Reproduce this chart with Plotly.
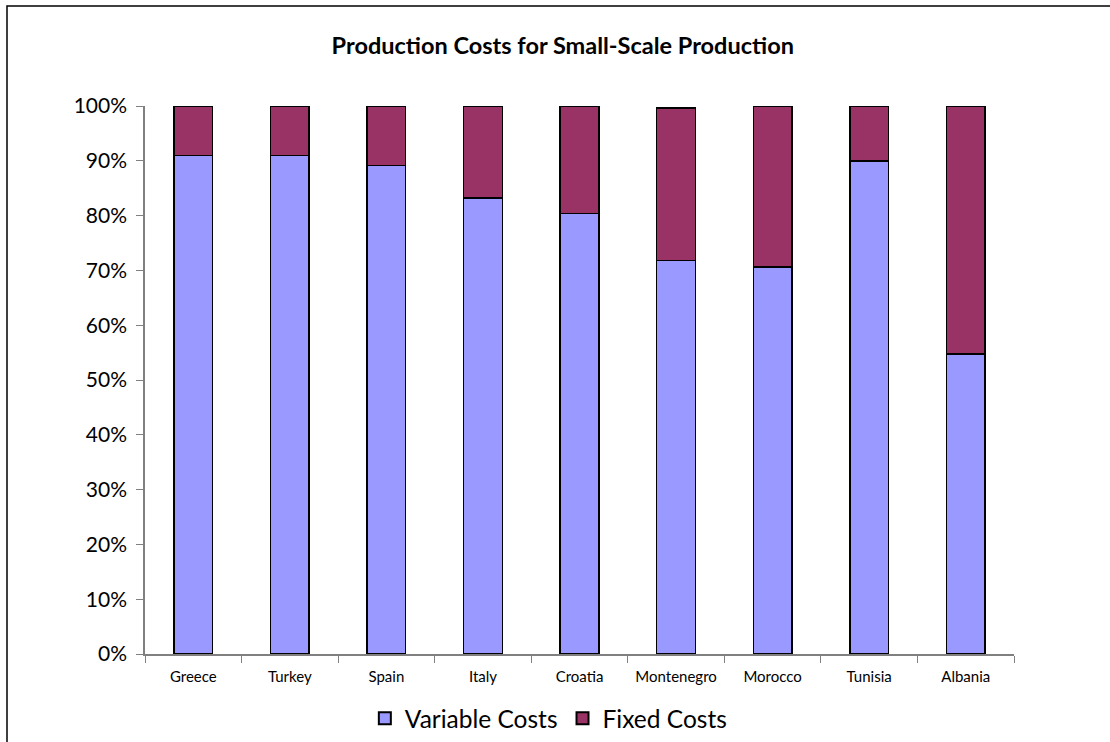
import plotly.graph_objects as go

countries = ["Greece", "Turkey", "Spain", "Italy", "Croatia", "Montenegro", "Morocco", "Tunisia", "Albania"]
variable_costs = [0.910, 0.910, 0.891, 0.832, 0.804, 0.718, 0.706, 0.900, 0.547]
fixed_costs = [0.090, 0.090, 0.109, 0.168, 0.196, 0.278, 0.294, 0.100, 0.453]

FONT = "Lato, 'Open Sans', sans-serif"

fig = go.Figure()
fig.add_trace(go.Bar(x=countries, y=variable_costs, name="Variable Costs",
                     marker=dict(color="#9999FF", line=dict(color="black", width=1.5))))
fig.add_trace(go.Bar(x=countries, y=fixed_costs, name="Fixed Costs",
                     marker=dict(color="#993366", line=dict(color="black", width=1.5))))

fig.update_layout(
    barmode="stack",
    bargap=0.6,
    width=1110, height=742,
    paper_bgcolor="white", plot_bgcolor="white",
    margin=dict(l=145, r=96, t=106, b=88, autoexpand=False),
    font=dict(family=FONT, color="black"),
    title=dict(text="<b>Production Costs for Small-Scale Production</b>",
               x=0.507, xanchor="center", y=0.938, yanchor="middle",
               font=dict(size=23.5, family=FONT)),
    legend=dict(orientation="h", xref="container", yref="container",
                x=0.494, xanchor="center", y=0.032, yanchor="middle",
                font=dict(size=24.5, family=FONT), traceorder="normal",
                itemsizing="constant"),
    showlegend=True,
    shapes=[dict(type="rect", xref="paper", yref="paper",
                 x0=-0.1588, x1=1.3, y0=-0.5, y1=1.1825,
                 line=dict(color="black", width=1.5), fillcolor="rgba(0,0,0,0)", layer="below")],
)
fig.update_xaxes(showline=True, linecolor="#808080", linewidth=1.5,
                 ticks="outside", tickson="boundaries", ticklen=7, tickcolor="#808080",
                 tickfont=dict(size=15, family=FONT), showgrid=False,
                 ticklabelstandoff=8, automargin=False)
fig.update_yaxes(range=[0, 1], dtick=0.1, tickformat=".0%", showline=True,
                 linecolor="#808080", linewidth=1.5, ticks="outside", ticklen=7,
                 tickcolor="#808080", tickfont=dict(size=21, family=FONT), showgrid=False,
                 zeroline=False, ticklabelstandoff=5, automargin=False)

fig.write_html("out.html", config={"displayModeBar": False},
               post_script="document.body.style.margin='0';")
